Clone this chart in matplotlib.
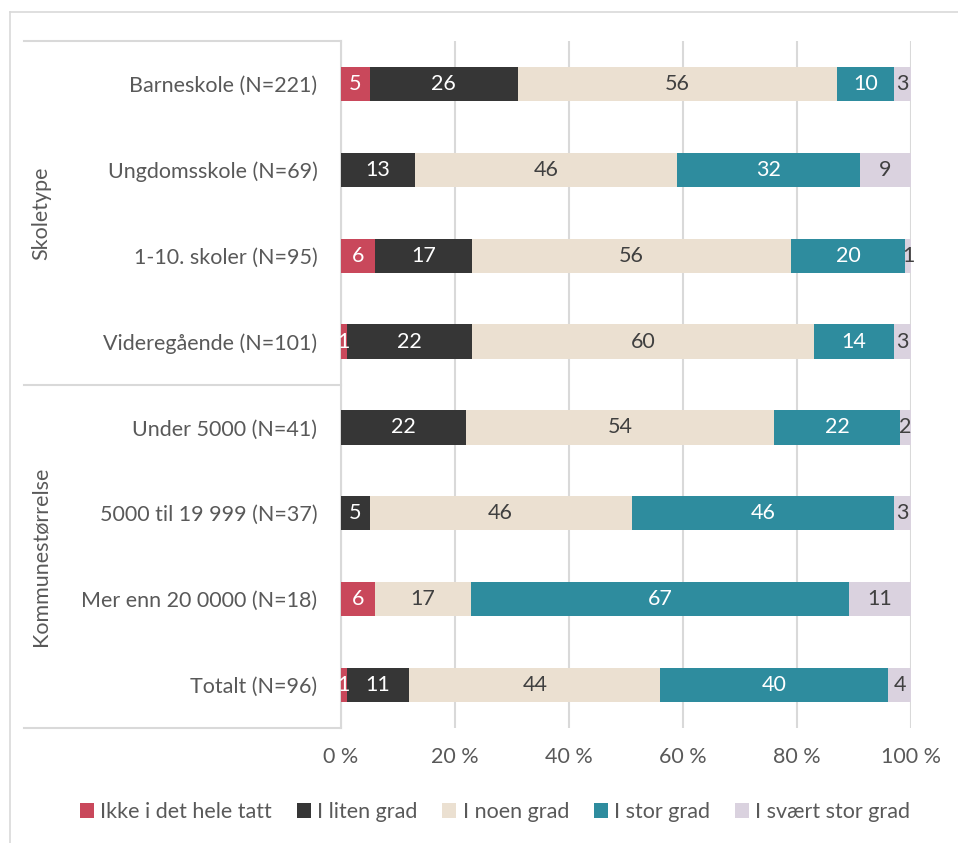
import matplotlib
matplotlib.use("Agg")
import matplotlib.pyplot as plt
from matplotlib.patches import Patch
from matplotlib.lines import Line2D
import numpy as np

plt.rcParams['font.family'] = ['Lato', 'DejaVu Sans']

categories = ["Barneskole (N=221)", "Ungdomsskole (N=69)", "1-10. skoler (N=95)",
              "Videregående (N=101)", "Under 5000 (N=41)", "5000 til 19 999 (N=37)",
              "Mer enn 20 0000 (N=18)", "Totalt (N=96)"]
series = ["Ikke i det hele tatt", "I liten grad", "I noen grad", "I stor grad", "I svært stor grad"]
ikke = [5, 0, 6, 1, 0, 0, 6, 1]
liten = [26, 13, 17, 22, 22, 5, 0, 11]
noen = [56, 46, 56, 60, 54, 46, 17, 44]
stor = [10, 32, 20, 14, 22, 46, 67, 40]
svaert = [3, 9, 1, 3, 2, 3, 11, 4]
groups = ["Skoletype", "Kommunestørrelse"]
group_sizes = [4, 4]
xticks = [0, 20, 40, 60, 80, 100]
xticklabels = ["0 %", "20 %", "40 %", "60 %", "80 %", "100 %"]

colors = ["#C9485B", "#363636", "#EBE0D1", "#2E8C9E", "#DAD2DF"]
label_colors = ["white", "white", "#404040", "white", "#404040"]
text_grey = "#595959"
grid_grey = "#D9D9D9"
FS = 15.5

W, H = 958, 843
fig = plt.figure(figsize=(W / 100, H / 100), dpi=100)
L, R, T, B = 341, 911, 41, 728
ax = fig.add_axes([L / W, 1 - B / H, (R - L) / W, (B - T) / H])

data = np.array([ikke, liten, noen, stor, svaert], dtype=float)
totals = data.sum(axis=0)
pct = data / totals * 100
y = np.arange(len(categories))
left = np.zeros(len(categories))
for i, name in enumerate(series):
    ax.barh(y, pct[i], left=left, height=0.40, color=colors[i], label=name, zorder=3)
    for j in range(len(categories)):
        if data[i, j] > 0:
            ax.text(left[j] + pct[i, j] / 2, y[j], f"{int(data[i, j])}", ha="center", va="center",
                    color=label_colors[i], fontsize=FS, zorder=4)
    left += pct[i]

ax.set_xlim(0, 100)
ax.set_ylim(len(categories) - 0.5, -0.5)
ax.set_xticks(xticks)
ax.set_xticklabels(xticklabels, fontsize=FS, color=text_grey)
ax.set_yticks(y)
ax.set_yticklabels(categories, fontsize=FS, color=text_grey)
ax.tick_params(axis="both", length=0)
ax.tick_params(axis="x", pad=14)
ax.tick_params(axis="y", pad=17)
ax.xaxis.grid(True, color=grid_grey, linewidth=1.5, zorder=0)
ax.set_axisbelow(True)
for s in ["top", "right", "bottom"]:
    ax.spines[s].set_visible(False)
ax.spines["left"].set_color(grid_grey)
ax.spines["left"].set_linewidth(1.5)

def fx(px):
    return px / W

def fy(py):
    return 1 - py / H

row_h = (B - T) / len(categories)
ypos = T
for gi, (g, n) in enumerate(zip(groups, group_sizes)):
    fig.add_artist(Line2D([fx(24), fx(L)], [fy(ypos), fy(ypos)], color=grid_grey, lw=1.5))
    mid = ypos + n * row_h / 2
    fig.text(fx(41), fy(mid), g, rotation=90, ha="center", va="center", fontsize=FS, color=text_grey)
    ypos += n * row_h
fig.add_artist(Line2D([fx(24), fx(L)], [fy(ypos), fy(ypos)], color=grid_grey, lw=1.5))

fig.add_artist(Line2D([fx(10), fx(10)], [fy(12), 0], color=grid_grey, lw=1.2))
fig.add_artist(Line2D([fx(10), 1], [fy(12), fy(12)], color=grid_grey, lw=1.2))

handles = [Patch(facecolor=c, edgecolor="none") for c in colors]
leg = fig.legend(handles, series, loc="center", bbox_to_anchor=(fx(495), fy(812)), ncol=5,
                 frameon=False, fontsize=FS, handlelength=0.65, handleheight=0.65,
                 handletextpad=0.3, columnspacing=1.15)
for t in leg.get_texts():
    t.set_color(text_grey)

fig.savefig("out.png", dpi=100)
